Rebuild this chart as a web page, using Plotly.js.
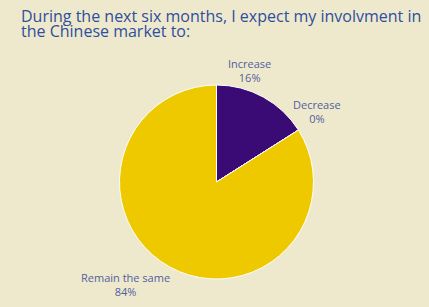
<!DOCTYPE html>
<html><head><meta charset="utf-8">
<script src="https://cdn.plot.ly/plotly-3.0.1.min.js"></script>
<style>html,body{margin:0;padding:0;background:#EEE9CC;}#chart{width:429px;height:307px;}</style>
</head><body><div id="chart"></div>
<script>
const labels = ["Increase", "Decrease", "Remain the same"];
const values = [16, 0, 84];
const colors = ["#3B0B75", "#EEC900", "#EEC900"];
const titleLines = ["During the next six months, I expect my involvment in", "the Chinese market to:"];
// label anchor positions (paper fraction)
const labelPos = [[249/429, 1 - 70/307], [317/429, 1 - 112/307], [125/429, 1 - 284/307]];
const titleY = [1 - 16/307, 1 - 31/307];

const total = values.reduce((a, b) => a + b, 0);
const annotations = labels.map((l, i) => ({
  text: l + "<br>" + Math.round(values[i] / total * 100) + "%",
  x: labelPos[i][0], y: labelPos[i][1], xref: "paper", yref: "paper",
  xanchor: "center", yanchor: "middle", showarrow: false, align: "center",
  font: {family: "Open Sans, sans-serif", size: 11, color: "#5160A0"}
}));
titleLines.forEach((t, i) => annotations.push({
  text: t, x: 19/429, y: titleY[i], xref: "paper", yref: "paper",
  xanchor: "left", yanchor: "middle", align: "left", showarrow: false,
  font: {family: "Open Sans, sans-serif", size: 16, color: "#2E4E9E"}
}));

Plotly.newPlot("chart", [{
  type: "pie",
  labels: labels,
  values: values,
  sort: false,
  direction: "clockwise",
  rotation: 0,
  marker: {colors: colors, line: {color: "#ffffff", width: 1}},
  textinfo: "none",
  automargin: false,
  domain: {x: [0.2774, 0.7319], y: [0.0912, 0.7231]},
  showlegend: false,
  hoverinfo: "label+percent"
}], {
  width: 429, height: 307,
  paper_bgcolor: "#EEE9CC",
  margin: {l: 0, r: 0, t: 0, b: 0},
  annotations: annotations
}, {displayModeBar: false});
</script></body></html>
